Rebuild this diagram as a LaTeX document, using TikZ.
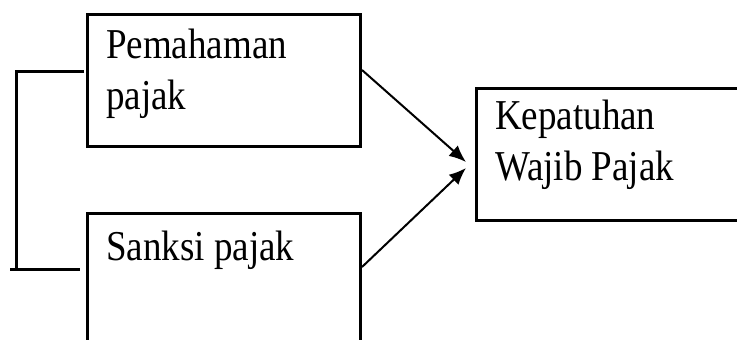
\documentclass[tikz,border=0pt]{standalone}
\usepackage{fontspec}
\setmainfont{Liberation Serif}
\usetikzlibrary{arrows.meta,calc}
\newcommand{\stretchtext}[1]{\scalebox{1}[1.15]{\begin{tabular}[t]{@{}l@{}}#1\end{tabular}}}
\begin{document}
\begin{tikzpicture}[x=1pt,y=-1pt,
  box/.style={draw, line width=3.2pt, inner sep=0pt, anchor=north west},
  lbl/.style={inner sep=0pt, anchor=base west, font=\fontsize{37}{45}\selectfont},
  link/.style={line width=2pt, -{Latex[length=17pt,width=14pt]}},
  bracketline/.style={line width=3pt}]
\useasboundingbox (0,0) rectangle (737,340);
\clip (0,0) rectangle (737,340);
\node[box, minimum width=273pt, minimum height=132pt] (b1) at (86,13) {};
\node[box, minimum width=273pt, minimum height=170pt] (b2) at (86,212) {};
\node[box, minimum width=300pt, minimum height=132pt] (b3) at (475,87) {};
\node[lbl] (t1) at (106,58) {\stretchtext{Pemahaman\\pajak}};
\node[lbl] (t2) at (106,260) {\stretchtext{Sanksi pajak}};
\node[lbl] (t3) at (495,129) {\stretchtext{Kepatuhan\\Wajib Pajak}};
\coordinate (s1) at (362,70);
\coordinate (e1) at (466,162);
\coordinate (s2) at (362,267);
\coordinate (e2) at (466,168);
\draw[link] (s1) -- (e1);
\draw[link] (s2) -- (e2);
\coordinate (k1) at (84,71);
\coordinate (k2) at (16,71);
\coordinate (k3) at (16,269);
\coordinate (k4) at (10,269);
\coordinate (k5) at (80,269);
\draw[bracketline] (k1) -- (k2) -- (k3);
\draw[bracketline] (k4) -- (k5);
\end{tikzpicture}
\end{document}
